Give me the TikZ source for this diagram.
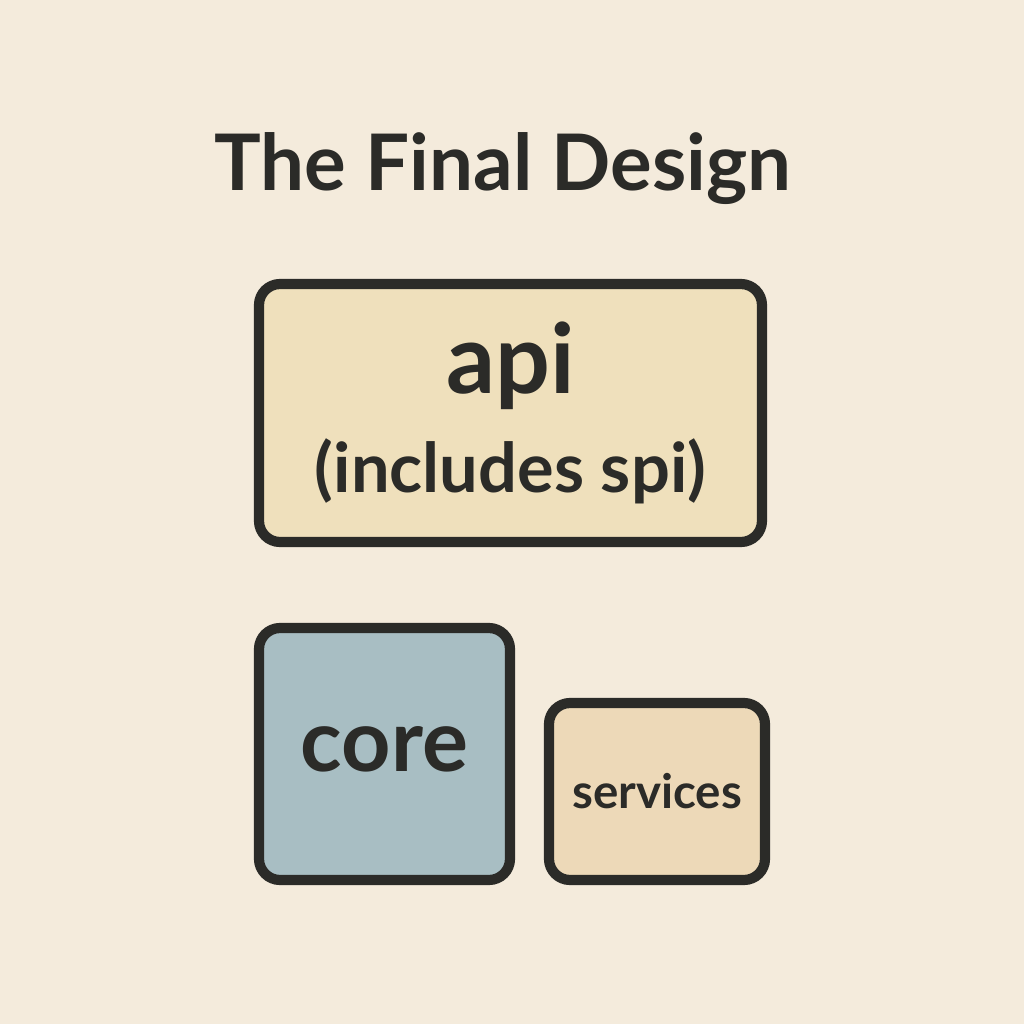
\documentclass[tikz,border=0pt]{standalone}
\usepackage{fontspec}
\setmainfont{Lato}
\usepackage{xcolor}
\definecolor{paper}{HTML}{F4EBDC}
\definecolor{ink}{HTML}{2B2B28}
\definecolor{apifill}{HTML}{EFE0BC}
\definecolor{corefill}{HTML}{A8BEC3}
\definecolor{svcfill}{HTML}{EDD9B8}

\begin{document}
\begin{tikzpicture}[y=-1cm,
    modbox/.style={draw=ink, line width=2.9pt, rounded corners=6pt,
        inner sep=0pt, text=ink, align=center}]
        % Page
        \fill[paper] (0,0) rectangle (10.24,10.24);
        \useasboundingbox (0,0) rectangle (10.24,10.24);
        % Title
        \node[text=ink, anchor=base, font=\fontsize{22.2}{26}\selectfont\bfseries] (title) at (5.03,1.90) {The Final Design};
        % api module
        \node[modbox, fill=apifill, minimum width=5.03cm, minimum height=2.58cm,
            font=\fontsize{19.5}{25}\selectfont\bfseries] (api) at (5.105,4.13)
            {{\fontsize{27.5}{25}\selectfont api}\\[3pt](includes spi)};
        % core module
        \node[modbox, fill=corefill, minimum width=2.51cm, minimum height=2.52cm,
            font=\fontsize{24.5}{30}\selectfont\bfseries] (core) at (3.845,7.54) {\raisebox{3pt}{core}};
        % services module
        \node[modbox, fill=svcfill, minimum width=2.16cm, minimum height=1.77cm,
            font=\fontsize{13.5}{17}\selectfont\bfseries] (services) at (6.57,7.915) {\raisebox{-2pt}{services}};
    \end{tikzpicture}
\end{document}
